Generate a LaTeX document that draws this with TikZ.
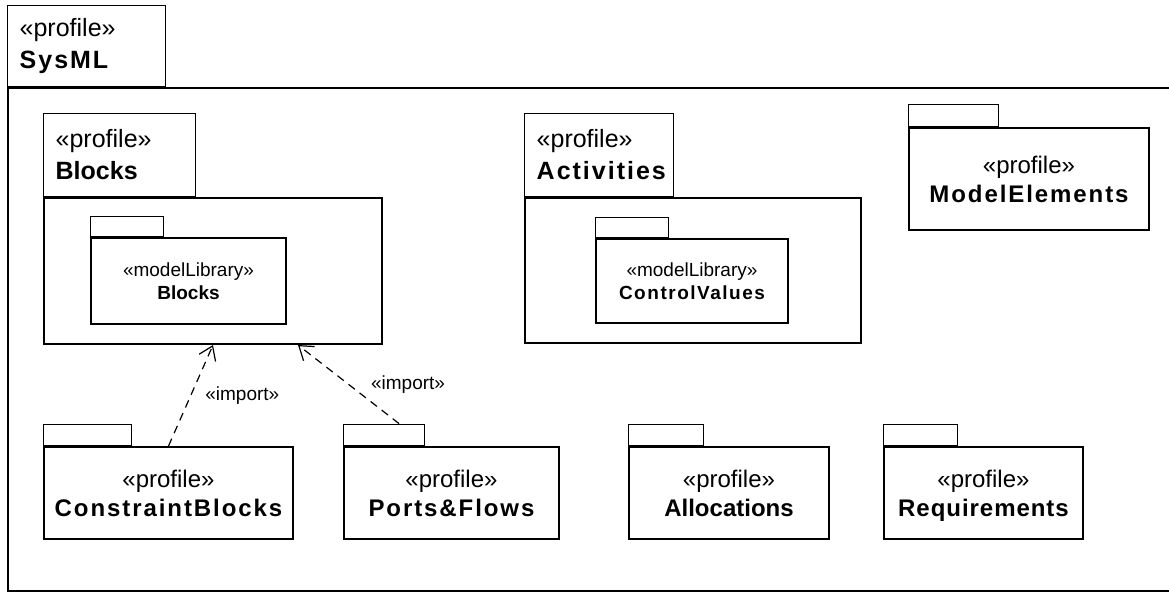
\documentclass[tikz,border=0pt]{standalone}
\usepackage{fontspec}
\setmainfont{Liberation Sans}
\usetikzlibrary{arrows.meta,positioning,calc}

% wider letters for some package names
\newcommand{\wide}{\addfontfeature{LetterSpace=8}}
\newcommand{\prof}{\guillemotleft profile\guillemotright}
\newcommand{\mlib}{\guillemotleft modelLibrary\guillemotright}
\newcommand{\pname}[1]{\textbf{\raisebox{0pt}[\height][0pt]{#1}}}

\tikzset{
  pkg/.style={draw, line width=1pt, rectangle, inner sep=0pt, anchor=north west, align=center, font=\fontsize{12}{14.5}\selectfont},
  tab/.style={draw, line width=0.7pt, rectangle, inner sep=0pt, anchor=south west},
  titletab/.style={draw, line width=0.7pt, rectangle, inner xsep=6pt, inner ysep=0pt, anchor=south west, align=left, font=\fontsize{12.5}{16}\selectfont},
  libpkg/.style={pkg, font=\fontsize{9.5}{11.5}\selectfont},
  imp/.style={dashed, dash pattern=on 4pt off 3pt, line width=0.6pt, -{Straight Barb[length=6.5pt,width=9pt,line width=0.6pt]}},
  implabel/.style={font=\fontsize{9.5}{11}\selectfont, inner sep=1pt}
}

\begin{document}
\begin{tikzpicture}[x=0.5pt, y=-0.5pt]
\useasboundingbox (0,0) rectangle (1169,591);

% outer profile
\node[pkg, minimum width=587pt, minimum height=251.5pt] (sysml) at (7,87) {};
\node[titletab, minimum width=79pt, minimum height=40.5pt, text width=67pt] (sysmlTab) at (sysml.north west) {\prof\\\textbf{\wide SysML}};

% Blocks
\node[pkg, minimum width=169pt, minimum height=73pt] (blocks) at (43,197) {};
\node[titletab, minimum width=76pt, minimum height=41.5pt, text width=64pt] (blocksTab) at (blocks.north west) {\prof\\\textbf{Blocks}};
\node[libpkg, minimum width=97.5pt, minimum height=43pt] (blocksLib) at (90,237) {\mlib\\\pname{Blocks}};
\node[tab, minimum width=36.5pt, minimum height=10pt] (blocksLibTab) at (blocksLib.north west) {};

% Activities
\node[pkg, minimum width=168pt, minimum height=72.5pt] (act) at (524,197) {};
\node[titletab, minimum width=74.5pt, minimum height=41.5pt, text width=62.5pt] (actTab) at (act.north west) {\prof\\\textbf{\wide Activities}};
\node[libpkg, minimum width=96pt, minimum height=42pt] (ctrl) at (595,238) {\mlib\\\pname{\wide ControlValues}};
\node[tab, minimum width=36.5pt, minimum height=10pt] (ctrlTab) at (ctrl.north west) {};

% ModelElements
\node[pkg, minimum width=120pt, minimum height=51pt] (model) at (908,127) {\prof\\\pname{\wide ModelElements}};
\node[tab, minimum width=45pt, minimum height=11pt] (modelTab) at (model.north west) {};

% bottom row
\node[pkg, minimum width=124.5pt, minimum height=46pt] (cb) at (43,446) {\prof\\\pname{\wide ConstraintBlocks}};
\node[tab, minimum width=44pt, minimum height=10.5pt] (cbTab) at (cb.north west) {};

\node[pkg, minimum width=107.5pt, minimum height=46pt] (pf) at (343,446) {\prof\\\pname{\wide Ports\&Flows}};
\node[tab, minimum width=40.5pt, minimum height=10.5pt] (pfTab) at (pf.north west) {};

\node[pkg, minimum width=100pt, minimum height=46pt] (alloc) at (628,446) {\prof\\\pname{Allocations}};
\node[tab, minimum width=37.5pt, minimum height=10.5pt] (allocTab) at (alloc.north west) {};

\node[pkg, minimum width=99.5pt, minimum height=46pt] (req) at (883,446) {\prof\\\pname{\addfontfeature{LetterSpace=4}Requirements}};
\node[tab, minimum width=37pt, minimum height=10.5pt] (reqTab) at (req.north west) {};

% imports
\draw[imp] (cb.north) -- (blocks.south)
  node[implabel, midway, right=6pt] (imp1) {\guillemotleft import\guillemotright};
\draw[imp] ($(pfTab.north west)!0.68!(pfTab.north east)$) -- ($(blocks.south west)!0.75!(blocks.south east)$)
  node[implabel, midway, right=10pt] (imp2) {\guillemotleft import\guillemotright};
\end{tikzpicture}
\end{document}
